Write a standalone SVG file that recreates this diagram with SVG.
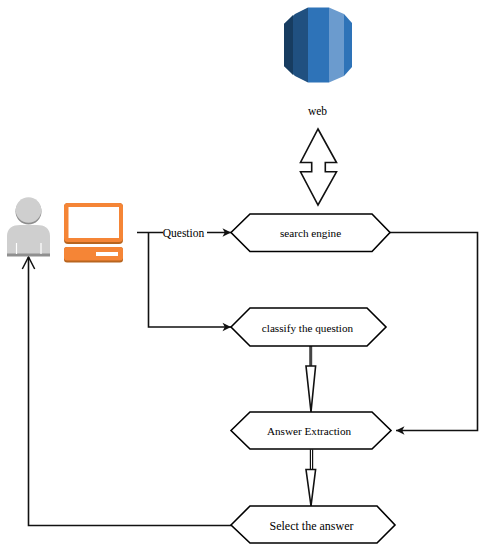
<svg xmlns="http://www.w3.org/2000/svg" width="483" height="550" viewBox="0 0 483 550">
<style>
text{font-family:"Liberation Serif","Times New Roman",serif;font-size:11.200px;fill:#000;text-anchor:middle}
.hex{fill:#fff;stroke:#000;stroke-width:1.600}
.line{fill:none;stroke:#111;stroke-width:1.600}
.big{fill:#fff;stroke:#111;stroke-width:1.600}
</style>
<defs>
<marker id="open" markerUnits="userSpaceOnUse" markerWidth="12" markerHeight="12" refX="10" refY="6" orient="auto"><path d="M1.500 1.800L10 6L1.500 10.200L3.800 6Z" fill="#111" stroke="none"/></marker>
<marker id="vee" markerUnits="userSpaceOnUse" markerWidth="16" markerHeight="16" refX="13" refY="8" orient="auto"><path d="M1 1.800L13 8L1 14.200" fill="none" stroke="#111" stroke-width="1.500"/></marker>
</defs>
<g id="connectors">
<path class="line" d="M137 232.500H163M207 232.500H231" marker-end="url(#open)"/>
<path class="line" d="M148.500 232.500V327H231" marker-end="url(#open)"/>
<path class="line" d="M390 232.500H477.500V430.500H396" marker-end="url(#open)"/>
<path class="line" d="M231 525.500H28.500V257" marker-end="url(#vee)"/>
<path d="M310.700 346V366" stroke="#444" stroke-width="3" fill="none"/>
<path d="M311.500 449.500V470" stroke="#111" stroke-width="3.400" fill="none"/>
<path d="M311.500 449.500V470" stroke="#fff" stroke-width="1" fill="none"/>
<path class="big" d="M306 366H315.600L311 412Z"/>
<path class="big" d="M306 469.500H315.600L311 506Z"/>
<path id="web-arrow" class="big" d="M318 129L336.500 162.500H325.300V171.800H336.500L318 205L300.500 171.800H311.700V162.500H300.500Z"/>
</g>
<g id="web-db">
<path d="M284 24L295 14L308 7.500V82.500L295 76L284 66Z" fill="#205080"/>
<path d="M284 24L293 15V75L284 66Z" fill="#173c60"/>
<path d="M308 7.500H329V82.500H308Z" fill="#2e73b8"/>
<path d="M329 7.500L344 14V76L329 82.500Z" fill="#6b9bce"/>
<path d="M344 14L352 23V67L344 76Z" fill="#2e73b8"/>
</g>
<g id="web-label"><text x="317.500" y="115" style="font-size:11.500px">web</text></g>
<g id="person">
<circle cx="28.500" cy="211.500" r="13" fill="#8e8e8e"/>
<circle cx="28.500" cy="210" r="12.800" fill="#cfcfcf"/>
<path d="M7 256V236C7 228 13 225 20 225H37C44 225 50 228 50 236V256Z" fill="#cfcfcf"/>
<rect x="7" y="253.500" width="43" height="3" fill="#8f8f8f"/>
<path d="M16.500 243V254M41 243V254" stroke="#fff" stroke-width="1.200"/>
</g>
<g id="computer">
<rect x="64" y="203" width="59" height="41" rx="4" fill="#b8651f"/>
<rect x="64" y="203" width="59" height="39" rx="4" fill="#f58536"/>
<rect x="68.500" y="207" width="50.500" height="31" fill="#fff"/>
<rect x="64" y="247" width="59" height="15.500" rx="3" fill="#b8651f"/>
<rect x="64" y="247" width="59" height="13.500" rx="3" fill="#f58536"/>
<rect x="96" y="252" width="22" height="4" fill="#fff"/>
</g>
<g id="question-label"><text x="183.500" y="237" style="font-size:11.500px">Question</text></g>
<g id="search-engine"><path class="hex" d="M231 232.500L250 214H372L390 232.500L372 251.500H250Z"/><text x="310.500" y="237">search engine</text></g>
<g id="classify"><path class="hex" d="M231 327L250 308H367L386 327L367 346H250Z"/><text x="307.500" y="331.500">classify the question</text></g>
<g id="answer-extraction"><path class="hex" d="M231 430.500L250 412H372L391 430.500L372 449H250Z"/><text x="309" y="435">Answer Extraction</text></g>
<g id="select-answer"><path class="hex" d="M231 525L250 506H377L395 525L377 543H250Z"/><text x="311.500" y="529.500" style="font-size:12px">Select the answer</text></g>
</svg>
